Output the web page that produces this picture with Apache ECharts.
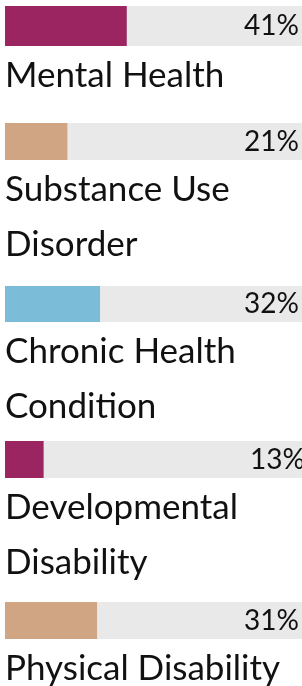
<!DOCTYPE html>
<html>
<head>
<meta charset="utf-8">
<script src="https://cdn.jsdelivr.net/npm/echarts@6/dist/echarts.min.js"></script>
<style>
	html, body { margin: 0; padding: 0; background: #fff; }
	#chart { width: 302px; height: 686px; }
</style>
</head>
<body>
<div id="chart"></div>
<script>
// chart data
var categories = [
	"Mental Health",
	"Substance Use\nDisorder",
	"Chronic Health\nCondition",
	"Developmental\nDisability",
	"Physical Disability"
];
var values = [41, 21, 32, 13, 31];
var trackMax = [100, 100, 100, 100, 100];

var colors = ["#9a2560", "#cfa584", "#7bbcd8", "#9a2560", "#cfa584"];
// bar top and height for each row (px)
var tops = [6, 123, 286, 441, 602];
var heights = [40, 37, 36, 37, 37];

var chart = echarts.init(document.getElementById("chart"), null, { renderer: "canvas" });

var grids = [], xAxes = [], yAxes = [], series = [];

categories.forEach(function (name, i) {
	grids.push({ left: 5, width: 302, top: tops[i], height: heights[i] });
	xAxes.push({ type: "value", gridIndex: i, min: 0, max: 100, show: false });
	yAxes.push({ type: "category", gridIndex: i, data: [name], show: false });

	// grey track with the percentage at its right end
	series.push({
		type: "bar",
		xAxisIndex: i,
		yAxisIndex: i,
		data: [trackMax[i]],
		barWidth: heights[i],
		barGap: "-100%",
		silent: true,
		itemStyle: { color: "#e9e9e9" },
		label: {
			show: true,
			position: "insideRight",
			distance: 9,
			offset: i === 3 ? [12, 0] : [6, 0],
			formatter: function () { return values[i] + "%"; },
			fontFamily: "Lato",
			fontSize: 28,
			color: "#111"
		},
		animation: false
	});

	// coloured value bar with the category name below it
	series.push({
		type: "bar",
		xAxisIndex: i,
		yAxisIndex: i,
		data: [values[i]],
		barWidth: heights[i],
		barGap: "-100%",
		silent: true,
		itemStyle: { color: colors[i] },
		label: {
			show: true,
			position: [0, heights[i] + 2],
			align: "left",
			verticalAlign: "top",
			formatter: "{b}",
			fontFamily: "Lato",
			fontSize: 35,
			lineHeight: 55,
			color: "#111"
		},
		animation: false
	});
});

chart.setOption({
	grid: grids,
	xAxis: xAxes,
	yAxis: yAxes,
	series: series
});
</script>
</body>
</html>
